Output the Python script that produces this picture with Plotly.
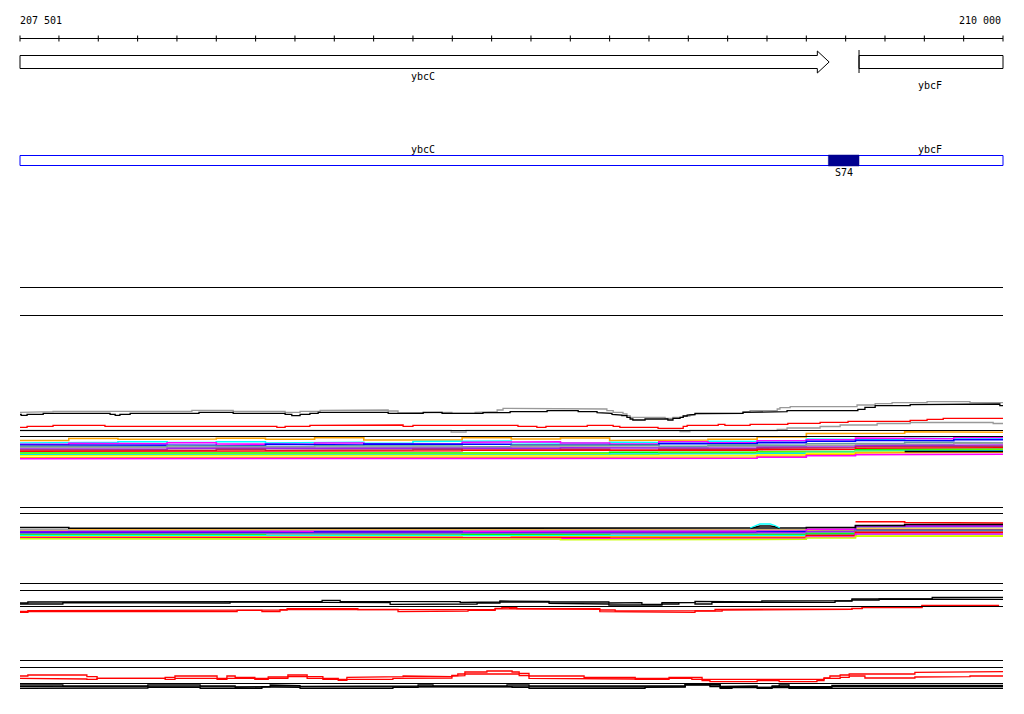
import plotly.graph_objects as go

# ---------------- data ----------------
WINDOW = [207501, 210000]
ruler_ticks = [207501, 207600, 207700, 207800, 207900, 208000, 208100, 208200, 208300,
               208400, 208500, 208600, 208700, 208800, 208900, 209000, 209100, 209200,
               209300, 209400, 209500, 209600, 209700, 209800, 209900, 210000]
ruler_labels = ["207 501", "210 000"]

gene_names = ["ybcC", "ybcF"]
gene_starts = [207501, 209634]
gene_ends = [209558, 210000]
gene_label_pos = [208526, 209814]

segment_names = ["S74"]
segment_starts = [209556]
segment_ends = [209634]

# ---- profile group 1 (upper lines) ----
gray_top_x = [207501, 207560, 207585, 207938, 208043, 208175, 208213, 208264, 208315, 208437,
              208462, 208526, 208599, 208658, 208696, 208714, 208729, 208981, 208993, 209009,
              209034, 209044, 209052, 209141, 209161, 209187, 209204, 209217, 209242, 209339,
              209357, 209426, 209433, 209459, 209629, 209675, 209718, 209807, 209916]
gray_top_y = [412.3, 411.7, 411.3, 410.3, 411.3, 412.3, 411.3, 410.3, 410, 411,
              413, 412.3, 413.3, 412.3, 411.7, 410, 408.3, 409, 410.7, 412.3,
              414, 415.7, 417.3, 418.3, 417.3, 416, 415, 414, 413.3, 411.7,
              410.7, 409, 407.7, 406.7, 405, 403.7, 402.7, 401.7, 402.7]

black_top_x = [207501, 207504, 207519, 207560, 207730, 207743, 207755, 207781, 207956, 208043,
               208175, 208192, 208213, 208238, 208259, 208437, 208526, 208574, 208597, 208658,
               208678, 208747, 208841, 208920, 208968, 208993, 209006, 209019, 209031, 209044,
               209052, 209059, 209090, 209115, 209141, 209148, 209161, 209179, 209187, 209197,
               209209, 209217, 209314, 209336, 209339, 209433, 209451, 209631, 209649, 209675,
               209764, 209784, 209992]
black_top_y = [414.3, 415.3, 414.3, 413.3, 414.3, 415.3, 414.3, 413.3, 412.3, 413.3,
               414.3, 415.7, 414.3, 413.3, 412.3, 413.3, 412.3, 413.3, 414, 413.3,
               412.7, 411.7, 410.7, 411.7, 412.7, 413.3, 414.3, 415, 415.7, 417.3,
               419, 420, 419, 418.3, 419, 420, 418.3, 417.3, 416, 415,
               414.3, 413.3, 414, 413.3, 412.3, 411.7, 410.7, 409.3, 407.3, 405.7,
               404.7, 404, 405.7]

red_top_x = [207501, 207519, 207585, 207717, 208154, 208175, 208238, 208315, 208475, 208500,
             208767, 208815, 208838, 208943, 209009, 209026, 209123, 209187, 209197, 209276,
             209293, 209357, 209453, 209535, 209606, 209764, 209807, 209848]
red_top_y = [427.3, 426.3, 425.3, 426.3, 427.3, 426.3, 425.3, 425, 426.3, 425.3,
             426.3, 427.3, 426.3, 425.3, 426.3, 427.3, 428.3, 426.3, 425.3, 424.3,
             425.3, 424.3, 423.3, 422.3, 421.3, 420.3, 419.3, 418.3]

gray_low_x = [207501, 208597, 208635, 209179, 209204, 209426, 209451, 209535, 209586, 209680,
              209764, 209975]
gray_low_y = [430.5, 432, 430.5, 431.7, 430.5, 429.3, 428, 426.5, 425, 423.5, 422.5, 423.5]

# ---- colour bands (20 bins of 125 bp) ----
bin_edges = [207501, 207625, 207750, 207875, 208000, 208125, 208250, 208375, 208500, 208625,
             208750, 208875, 209000, 209125, 209250, 209375, 209500, 209625, 209750, 209875, 210000]

band1_colors = ["#ffa500", "#00ffff", "#ff00ff", "#0000ff", "#5f9ea0", "#a0a0a0", "#a020f0",
                "#b03060", "#ff0000", "#00ff00", "#7fff00", "#00e5ee", "#ffff00", "#ffa500",
                "#ff00ff", "#000000"]
band1_values = [
    [440.5, 438.5, 439.3, 439, 438.3, 439.3, 437.7, 440, 440, 437.7, 439, 438, 440.5, 440, 439.3, 437, 433.5, 433.3, 431.7, 432.3],
    [443, 442.3, 441.7, 442.5, 441.7, 443, 442.3, 443.3, 441.5, 441, 442.7, 443.3, 442.3, 442.7, 441.3, 441.7, 439, 439.7, 438.3, 438.7],
    [444.3, 443.3, 443.7, 442.7, 444, 444.3, 443, 444, 443.7, 442.3, 441.7, 443, 444, 441.7, 442.7, 440.7, 439.7, 438, 438.7, 437.5],
    [445, 445.3, 444.7, 445.3, 445.7, 444.3, 445, 444, 444.7, 444.3, 445, 444.3, 444.7, 443.7, 443.7, 442.7, 441.3, 440.3, 440.7, 439.7],
    [446.3, 446, 446.7, 445.7, 446.3, 446.7, 445.7, 446.3, 446, 446.7, 445.3, 446, 445.3, 446.3, 445, 445.3, 443.7, 443.3, 442.3, 442.7],
    [447.7, 447.3, 447.7, 447, 447.7, 447.3, 448, 447.3, 447, 447.7, 446.7, 447.3, 447, 447.7, 446.7, 446.3, 445.3, 444.3, 444.3, 443.3],
    [449, 448.7, 449.3, 448.3, 448.7, 448.3, 448.7, 448, 448.7, 448.3, 448.3, 447.7, 448.3, 448, 448.3, 447.3, 446.7, 445.7, 445.7, 445],
    [450, 450.3, 449.7, 450.3, 449.3, 450.3, 449.7, 449.7, 449.3, 450.3, 449.7, 449.3, 450.3, 449.3, 449.3, 448.3, 447.7, 446.7, 446.7, 446.3],
    [451.3, 451, 450.7, 451.3, 451, 450.7, 451.3, 451, 450.7, 450.3, 451, 450.7, 450.3, 450.7, 450.3, 449.7, 449.3, 448.3, 448.3, 447.7],
    [453, 452.7, 453.3, 452.7, 453.3, 453, 452.7, 453.3, 453, 452.7, 453.3, 453, 452.3, 452.7, 452.3, 451.7, 451.3, 449.7, 449.7, 449.3],
    [454, 454.3, 453.7, 454.3, 453.7, 453.7, 454.3, 453.7, 454.3, 453.3, 454, 453.7, 454.3, 453.3, 453.3, 452.3, 451.7, 450.7, 450.3, 450],
    [454.7, 455, 454.3, 455, 454.7, 455, 454.7, 454.3, 455, 454.3, 454.7, 454.7, 454, 454.3, 453.7, 453.3, 452.3, 451.3, 450.7, 450.7],
    [455.7, 456, 455.3, 456, 455.3, 456, 455.7, 456, 455.3, 456, 455.7, 455.3, 456, 455.3, 455.3, 454.7, 453.3, 452.3, 451.7, 451.7],
    [457.7, 457.3, 457, 457.7, 457, 457.7, 457.3, 457.7, 457.3, 457.7, 457.3, 457, 457.7, 457.7, 457, 456.3, 454.7, 453, 452.7, 452.3],
    [458.7, 458.3, 458, 458.7, 458.3, 458.7, 458.3, 458.7, 458.7, 458, 458.7, 458.3, 458.7, 458, 458.3, 457.3, 455.7, 454.7, 454, 454.3],
    [None, None, None, None, None, None, None, None, None, None, None, None, None, None, None, None, None, None, 451.5, 451.5],
]

band2_colors = ["#ffa500", "#a0a0a0", "#ff00ff", "#0000ff", "#a020f0", "#5f9ea0", "#00ff00",
                "#00ffff", "#ffff00", "#ffa500", "#ff0000", "#ff00ff", "#c8ff00", "#ff0000", "#000000"]
band2_values = [
    [530, 530.3, 530.7, 530, 530.7, 530.3, 530.7, 530, 530.7, 530.3, 530, 530.3, 530.7, 530.3, 530.7, 530, 530, 529, 529, 529.3],
    [529.7, 530.7, 531, 530.3, 531, 530.7, 531, 530.7, 531, 530.7, 531, 530.3, 530.7, 531, 530.7, 530.3, 529.3, 527.3, 527.3, 527],
    [531.7, 531.3, 532, 531.3, 531.7, 532, 531.3, 531.7, 532, 531.3, 531.7, 531.3, 532, 531.3, 531.7, 531.3, 529.3, 525.7, 525, 525.3],
    [532.3, 532.7, 532.3, 533, 532.3, 532.7, 532, 532.7, 532.3, 533, 532.7, 532.3, 532.7, 533, 532.3, 532, 531.3, 530.3, 530.7, 530.3],
    [533.3, 533, 533.7, 533.3, 533, 533.7, 533.3, 533, 533.7, 533.3, 533, 533.7, 533.3, 533.7, 533, 532.7, 531.7, 526.3, 526, 526.3],
    [534, 534.3, 534, 534.7, 534.3, 534, 534.3, 534.7, 534, 534.3, 534.7, 534, 534.3, 534, 534.7, 534, 533, 531, 531.3, 531],
    [535, 535.3, 534.7, 535.3, 535, 535.7, 535, 535.3, 535, 534.7, 535.3, 535, 535.7, 535.3, 535, 535, 534, 533.3, 533.3, 533],
    [535.7, 536, 536.3, 535.7, 536, 535.7, 536.3, 536, 535.7, 536.3, 536, 536.3, 535.7, 536, 536.3, 535.7, 535, 534.3, 534, 534.3],
    [536.7, 537, 536.3, 537, 536.7, 537.3, 536.7, 537, 537.3, 536.7, 537, 536.7, 537.3, 537.7, 537.3, 537, 536, 535.7, 535.3, 535.7],
    [537, 536.7, 537.3, 536.7, 537.3, 537, 536.7, 537.3, 537, 537.7, 536.7, 537.3, 537, 536.7, 537.3, 537, 535.7, 533, 533.3, 532.7],
    [537.7, 538, 537.3, 538, 537.7, 538, 537.7, 537.3, 538, 537.7, 538, 537.7, 538.3, 538, 537.7, 538, 535.3, 532.3, 532, 532.3],
    [538.3, 538.7, 538.3, 538, 538.7, 538.3, 538, 538.7, 538.3, 538, 538.7, 538.3, 538.7, 539, 538.7, 538.3, 537, 534, 534.3, 534],
    [538.7, 539.3, 539, 538.7, 539.3, 539, 539.3, 538.7, 539, 539.3, 539, 539.7, 539.7, 539.3, 539.7, 539.3, 538, 536.3, 536, 536.3],
    [None, None, None, None, None, None, None, None, None, None, None, None, None, None, None, None, None, 521.7, 522.5, 523],
    [527.5, 528.3, 528.3, 528.3, 528.3, 528.3, 528.3, 528.3, 528.3, 528.3, 528.3, 528.3, 528.3, 528.3, 528.3, 528, 527.5, 525.5, 524.5, 524.5],
]

bump_x = [209357, 209370, 209382, 209408, 209420, 209433]
bump_cyan_y = [528, 525.5, 524, 524, 525.5, 528]
bump_black_y = [528.3, 526.7, 526, 526, 526.7, 528.3]

# ---- profile group 3 ----
g3_black_a_x = [207501, 207521, 207610, 208035, 208073, 208269, 208315, 208485, 208620, 208663,
                208721, 208752, 208846, 208998, 209031, 209082, 209133, 209176, 209217, 209344,
                209387, 209515, 209616, 209685, 209769, 209820]
g3_black_a_y = [603, 602, 601.3, 601.7, 601.5, 600.3, 601.3, 601.7, 602.5, 602,
                601, 601.3, 602, 603, 602.7, 604.3, 602.7, 602.3, 601.3, 602,
                601, 600.7, 599, 598.3, 599, 597.3]
g3_black_b_x = [207501, 207610, 207966, 208035, 208073, 208442, 208620, 208663, 208721, 208846,
                208904, 208998, 209133, 209176, 209217, 209260, 209573, 209616, 209685, 209878]
g3_black_b_y = [604, 602.7, 603, 602, 602.7, 604.3, 604, 603, 602, 603.3,
                604, 605, 604, 602.7, 604, 602.3, 601, 600, 599, 599.3]
g3_red_a_x = [207501, 207521, 207610, 207837, 208053, 208180, 208360, 208383, 208462, 208485,
              208709, 208726, 208764, 208975, 209014, 209217, 209268, 209573, 209616, 209642, 209794]
g3_red_a_y = [611.5, 610.7, 610, 610.7, 610, 608.7, 609.7, 609.3, 610, 609.3,
              608.3, 607.3, 608.7, 610, 611, 610.7, 609.3, 609, 608.3, 607.3, 605.3]
g3_red_b_x = [207501, 207521, 207610, 207837, 208053, 208116, 208162, 208180, 208220, 208360,
              208383, 208462, 208485, 208581, 208640, 208709, 208764, 208975, 209014, 209217,
              209286, 209573, 209616, 209642, 209680, 209794]
g3_red_b_y = [612.3, 611.3, 611, 611.7, 610.3, 611.7, 609.7, 610, 609.3, 610,
              609.3, 611.7, 611, 611, 610.3, 608.7, 609.3, 611.7, 612.3, 611,
              610, 609.3, 608.7, 607.7, 607.5, 605.7]
g3_red_end = 209990

# ---- profile group 4 ----
g4_red_a_x = [207501, 207521, 207671, 207697, 207870, 207895, 208002, 208027, 208048, 208098,
              208132, 208182, 208231, 208271, 208310, 208332, 208449, 208475, 208576, 208599,
              208614, 208632, 208688, 208752, 208770, 208795, 208935, 209065, 209151, 209235,
              209255, 209431, 209481, 209527, 209545, 209560, 209586, 209609, 209776, 209807]
g4_red_a_y = [676, 675, 676.7, 678.3, 677.3, 676, 678.3, 676, 677.3, 678.3,
              677, 675, 676.7, 678.3, 679.3, 677.3, 676.7, 676, 676.7, 675.5,
              674, 672, 671, 672, 673.5, 676, 677.5, 678.3, 677.5, 679.3,
              680, 679.5, 680, 679.3, 678, 676, 675, 674, 672.3, 671.7]
g4_red_b_x = [207501, 207654, 207671, 207697, 207720, 207870, 207895, 208002, 208027, 208098,
              208132, 208182, 208231, 208271, 208310, 208332, 208449, 208576, 208599, 208614,
              208632, 208688, 208752, 208770, 208795, 208935, 209065, 209151, 209209, 209235,
              209255, 209375, 209431, 209527, 209545, 209586, 209609, 209649, 209776, 209807, 209916]
g4_red_b_y = [678.3, 679, 679.3, 678.3, 678.3, 679.3, 678.3, 679.3, 678.3, 679.3,
              678.3, 676.7, 678.3, 679.3, 680.3, 679.3, 678.3, 678, 676, 675.7,
              674, 673.3, 674, 675.7, 678.3, 679, 679.3, 678.3, 679.3, 680.7,
              681.7, 680.7, 681.7, 680.7, 678.3, 677.3, 676, 678, 677, 676.7, 676]
g4_black_a_x = [207501, 207610, 207826, 207959, 208048, 208116, 208137, 208157, 208213, 208251,
                208449, 208513, 208551, 208739, 208795, 209090, 209192, 209255, 209281, 209311,
                209375, 209413, 209431, 209456, 209565]
g4_black_a_y = [685, 686, 685, 686, 687.3, 686.7, 685, 685.7, 686.3, 686,
                686, 685, 686, 685, 686, 686, 683.8, 685, 686.3, 686,
                687.3, 686, 685, 686.7, 685.3]
g4_black_b_x = [207501, 207610, 207826, 207959, 208116, 208157, 208213, 208449, 208513, 208551,
                208739, 208752, 208795, 209090, 209126, 209192, 209255, 209281, 209311, 209375,
                209413, 209456, 209565]
g4_black_b_y = [688.3, 688, 687.3, 688.3, 686.7, 687.3, 688.3, 687.3, 686.5, 686.7,
                686.7, 687.3, 688.3, 687.3, 686.7, 685, 686.7, 688.3, 687.3, 688.3,
                686.7, 688.3, 688.3]
g4_black_c_x = [207501, 208795, 209192, 209281, 209456, 209565]
g4_black_c_y = [686.7, 687, 684.5, 687.5, 687.5, 686.7]

# ---------------- layout constants ----------------
W, H = 1024, 714
PX_LEFT, PX_RIGHT = 20, 1003
bp_per_px = (WINDOW[1] - WINDOW[0]) / (PX_RIGHT - PX_LEFT)
x_range = [WINDOW[0] - PX_LEFT * bp_per_px, WINDOW[0] + (W - PX_LEFT) * bp_per_px]

separator_rows = [287.5, 315.5, 430.5, 436.5, 507.5, 513.5, 583.5, 590.5, 606.5, 660.5, 667.5, 683.5]
RULER_ROW = 38.5
FONT = dict(family="DejaVu Sans Mono", size=10, color="#000000")

fig = go.Figure()


def add_line(xs, ys, color, width=1.3, shape="linear"):
    fig.add_trace(go.Scatter(x=xs, y=ys, mode="lines", line=dict(color=color, width=width, shape=shape),
                             hoverinfo="skip", showlegend=False))


def step_xy(edges, values):
    xs, ys = [], []
    for i, v in enumerate(values):
        if v is None:
            if xs and xs[-1] is not None:
                xs.append(None)
                ys.append(None)
            continue
        xs += [edges[i], edges[i + 1]]
        ys += [v, v]
    return xs, ys


def add_step(xs, ys, end, color, width=1.3):
    sx, sy = step_xy(list(xs) + [end], ys)
    add_line(sx, sy, color, width)


# ruler
add_line([WINDOW[0], WINDOW[1]], [RULER_ROW, RULER_ROW], "#000000", 1)
tx, ty = [], []
for t in ruler_ticks:
    tx += [t, t, None]
    ty += [35.5, 41.5, None]
add_line(tx, ty, "#000000", 1)

# genes (track 1)
head = 30
s, e = gene_starts[0], gene_ends[0]
add_line([s, e - head, e - head, e, e - head, e - head, s, s],
         [55.5, 55.5, 51, 62, 73, 68.5, 68.5, 55.5], "#000000", 1)
s, e = gene_starts[1], gene_ends[1]
add_line([s, e, e, s, s], [55.5, 55.5, 68.5, 68.5, 55.5], "#000000", 1)
add_line([s, s], [50, 73], "#000000", 1)

# track 2
add_line([WINDOW[0], WINDOW[1], WINDOW[1], WINDOW[0], WINDOW[0]],
         [155.5, 155.5, 165.5, 165.5, 155.5], "#0000ff", 1)
for ss, se in zip(segment_starts, segment_ends):
    fig.add_trace(go.Scatter(x=[ss, se, se, ss, ss], y=[155, 155, 166, 166, 155], mode="lines",
                             fill="toself", fillcolor="#000090", line=dict(color="#000090", width=0.5),
                             hoverinfo="skip", showlegend=False))

# group 1 profiles
add_step(gray_low_x, gray_low_y, WINDOW[1], "#999999")
for vals, col in zip(band1_values, band1_colors):
    add_step(bin_edges[:-1], vals, WINDOW[1], col, 1.6)
add_step(gray_top_x, gray_top_y, WINDOW[1], "#999999")
add_step(red_top_x, red_top_y, WINDOW[1], "#ff0000")
add_step(black_top_x, black_top_y, WINDOW[1], "#000000")

# group 2
for vals, col in zip(band2_values, band2_colors):
    add_step(bin_edges[:-1], vals, WINDOW[1], col, 1.6)
add_line(bump_x, bump_black_y, "#000000", 1.3)
add_line(bump_x, bump_cyan_y, "#00ffff", 1.3)

# group 3
add_step(g3_red_b_x, g3_red_b_y, g3_red_end, "#ff0000")
add_step(g3_red_a_x, g3_red_a_y, g3_red_end, "#ff0000")
add_step(g3_black_b_x, g3_black_b_y, WINDOW[1], "#000000")
add_step(g3_black_a_x, g3_black_a_y, WINDOW[1], "#000000")

# group 4
add_step(g4_red_b_x, g4_red_b_y, WINDOW[1], "#ff0000")
add_step(g4_red_a_x, g4_red_a_y, WINDOW[1], "#ff0000")
add_step(g4_black_c_x, g4_black_c_y, WINDOW[1], "#000000")
add_step(g4_black_b_x, g4_black_b_y, WINDOW[1], "#000000")
add_step(g4_black_a_x, g4_black_a_y, WINDOW[1], "#000000")

# separators
sx, sy = [], []
for r in separator_rows:
    sx += [WINDOW[0], WINDOW[1], None]
    sy += [r, r, None]
add_line(sx, sy, "#000000", 1)

annotations = [
    dict(x=WINDOW[0], y=20, text=ruler_labels[0], xanchor="left", xshift=-2),
    dict(x=WINDOW[1], y=20, text=ruler_labels[1], xanchor="right"),
    dict(x=gene_label_pos[0], y=76, text=gene_names[0], xanchor="center"),
    dict(x=gene_label_pos[1], y=85, text=gene_names[1], xanchor="center"),
    dict(x=gene_label_pos[0], y=149, text=gene_names[0], xanchor="center"),
    dict(x=gene_label_pos[1], y=149, text=gene_names[1], xanchor="center"),
    dict(x=(segment_starts[0] + segment_ends[0]) / 2, y=172, text=segment_names[0], xanchor="center"),
]
for a in annotations:
    a.update(xref="x", yref="y", showarrow=False, yanchor="middle", font=FONT)

fig.update_layout(
    width=W, height=H, autosize=False,
    margin=dict(l=0, r=0, t=0, b=0, pad=0),
    paper_bgcolor="#ffffff", plot_bgcolor="#ffffff",
    showlegend=False,
    xaxis=dict(range=x_range, visible=False, fixedrange=True),
    yaxis=dict(range=[H, 0], visible=False, fixedrange=True),
    annotations=annotations,
)

fig.write_html("out.html", config={"displayModeBar": False, "staticPlot": True},
               post_script="document.body.style.margin='0';document.body.style.overflow='hidden';")
